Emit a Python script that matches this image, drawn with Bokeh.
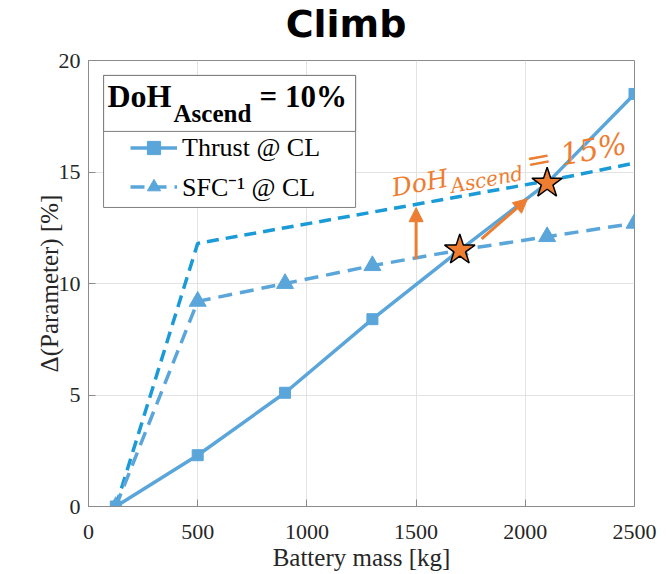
import math
from bokeh.plotting import figure
from bokeh.layouts import column
from bokeh.models import (ColumnDataSource, Range1d, FixedTicker, Legend, LegendItem,
                          BoxAnnotation, Label, Arrow, NormalHead)
from bokeh.embed import file_html
from bokeh.resources import INLINE

# ---------------- data ----------------
mass = [125, 500, 900, 1300, 1700, 2100, 2500]
thrust_cl = [0, 2.3, 5.1, 8.4, 11.5, 14.5, 18.5]
sfc_inv_cl = [0, 9.2, 10.0, 10.8, 11.5, 12.1, 12.7]
doh15_envelope = [0, 11.8, 12.5, 13.2, 13.9, 14.6, 15.4]

star_mass = [1700, 2100]
star_value = [11.5, 14.5]

arrow_x_start = [1500, 1800]
arrow_y_start = [11.1, 12.0]
arrow_x_end = [1500, 2010]
arrow_y_end = [13.4, 13.8]

x_ticks = [0, 500, 1000, 1500, 2000, 2500]
y_ticks = [0, 5, 10, 15, 20]

BLUE = "#5AA6DA"
BLUE_DARK = "#1A9BD7"
ORANGE = "#ED7D31"
AXIS_GRAY = "#8c8c8c"
TEXT = "#262626"
MID = 0.34  # label anchor correction (fraction of font size)

TITLE_H = 48

# ---------------- title strip (frame aligned with the main plot's frame) ----------------
pt = figure(width=666, height=TITLE_H, x_range=Range1d(0, 2500), y_range=Range1d(0, TITLE_H),
            output_backend="svg", toolbar_location=None, min_border=0,
            min_border_left=88, min_border_right=32,
            x_axis_location=None, y_axis_location=None,
            background_fill_color="white", border_fill_color="white")
pt.grid.visible = False
pt.outline_line_color = None
pt.add_layout(Label(x=1179, y=TITLE_H - 37 + 0.346 * 38, text="Climb", text_font="DejaVu Sans",
                    text_font_style="bold", text_font_size="38px", text_color="black",
                    text_align="center", text_baseline="alphabetic"))

# ---------------- main figure ----------------
p = figure(width=666, height=574 - TITLE_H, x_range=Range1d(0, 2500), y_range=Range1d(0, 20),
           output_backend="svg", toolbar_location=None,
           min_border_left=88, min_border_right=32, min_border_top=60 - TITLE_H,
           min_border_bottom=68,
           background_fill_color="white", border_fill_color="white")

p.outline_line_color = AXIS_GRAY
p.outline_line_width = 1
p.grid.grid_line_color = "#e3e3e3"
p.xaxis.ticker = FixedTicker(ticks=x_ticks)
p.yaxis.ticker = FixedTicker(ticks=y_ticks)
p.xaxis.axis_label = "Battery mass [kg]"
p.yaxis.axis_label = "Δ(Parameter) [%]"
for ax in (p.xaxis[0], p.yaxis[0]):
    ax.axis_line_color = AXIS_GRAY
    ax.major_tick_line_color = AXIS_GRAY
    ax.major_tick_in = 7
    ax.major_tick_out = 0
    ax.minor_tick_line_color = None
    ax.major_label_text_font = "Liberation Serif"
    ax.major_label_text_font_size = "22px"
    ax.major_label_text_color = TEXT
    ax.axis_label_text_font = "Liberation Serif"
    ax.axis_label_text_font_size = "25px"
    ax.axis_label_text_font_style = "normal"
    ax.axis_label_text_color = TEXT
p.xaxis.major_label_standoff = 18
p.xaxis.axis_label_standoff = 2
p.yaxis.major_label_standoff = 8
p.yaxis.axis_label_standoff = -7

src = ColumnDataSource(dict(mass=mass, thrust=thrust_cl, sfc=sfc_inv_cl, doh15=doh15_envelope))

env = p.line("mass", "doh15", source=src, line_color=BLUE_DARK, line_width=3.5, line_dash="12 7")
sl = p.line("mass", "sfc", source=src, line_color=BLUE, line_width=3.5, line_dash="14 8")
ss = p.scatter("mass", "sfc", source=src, marker="triangle", size=17, color=BLUE)
tl = p.line("mass", "thrust", source=src, line_color=BLUE, line_width=3.5)
ts = p.scatter("mass", "thrust", source=src, marker="square", size=11, color=BLUE)

p.scatter(star_mass, star_value, marker="star", size=32, fill_color=ORANGE,
          line_color="black", line_width=1.5)

arrow_src = ColumnDataSource(dict(x0=arrow_x_start, y0=arrow_y_start, x1=arrow_x_end, y1=arrow_y_end))
p.add_layout(Arrow(end=NormalHead(size=14, fill_color=ORANGE, line_color=ORANGE),
                   x_start="x0", y_start="y0", x_end="x1", y_end="y1", source=arrow_src,
                   line_color=ORANGE, line_width=3))

# rotated annotation "DoH_Ascend = 15%"
theta = math.radians(10.5)
def along(d, down):
    return d * math.cos(theta) + down * math.sin(theta), d * math.sin(theta) - down * math.cos(theta)

ax0, ay0 = 1397, 13.9
for txt, size, d, down in [("DoH", 25, 0, 0),
                           ("Ascend", 20, 58, 7),
                           ("= 15%", 30, 137, 0)]:
    dx, dy = along(d, down - MID * size)
    p.add_layout(Label(x=ax0, y=ay0, x_offset=dx, y_offset=dy, text=txt, angle=theta,
                       text_font="DejaVu Serif", text_font_style="italic",
                       text_font_size=f"{size}px", text_color=ORANGE, text_baseline="alphabetic"))

# legend box with title section
p.add_layout(BoxAnnotation(left=69, right=1223, top=19.33, bottom=13.41,
                           fill_color="white", fill_alpha=1,
                           line_color="#7f7f7f", line_alpha=1, line_width=1))
p.add_layout(BoxAnnotation(left=69, right=1223, top=19.33, bottom=16.82,
                           fill_alpha=0, line_color="#7f7f7f", line_alpha=1, line_width=1))

tx, ty = 87, 17.9
for txt, size, xo, yo in [("DoH", 32, 0, 0), ("Ascend", 25, 66, -15), ("= 10%", 31, 152, 0)]:
    p.add_layout(Label(x=tx, y=ty, x_offset=xo, y_offset=yo + MID * size, text=txt,
                       text_font="Liberation Serif", text_font_style="bold",
                       text_font_size=f"{size}px", text_color="black", text_baseline="alphabetic"))

legend = Legend(items=[LegendItem(label="Thrust @ CL", renderers=[tl, ts]),
                       LegendItem(label="SFC⁻¹ @ CL", renderers=[sl, ss])],
                location=(42, 302), padding=0, spacing=4, margin=0,
                glyph_width=47, glyph_height=33, label_height=33, label_standoff=5,
                label_text_font="Liberation Serif", label_text_font_size="26px",
                label_text_color="black",
                border_line_alpha=0, background_fill_alpha=0)
p.add_layout(legend)

layout = column(pt, p, spacing=0)
open("out.html", "w").write(file_html(layout, INLINE))
